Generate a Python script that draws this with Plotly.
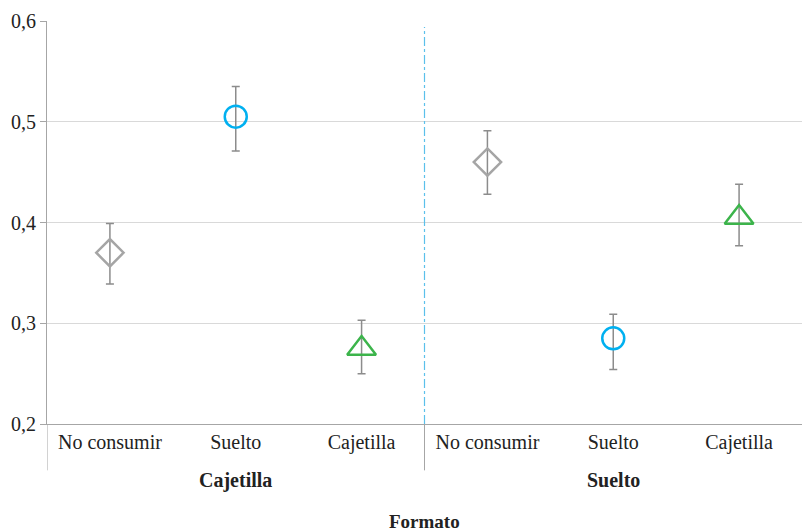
import plotly.graph_objects as go

# Grouped categories along the x axis
groups = ["Cajetilla", "Suelto"]
options = ["No consumir", "Suelto", "Cajetilla"]

# Estimated share per option within each format group, with interval bounds
series_names = ["No consumir", "Suelto", "Cajetilla"]
means = {
    "No consumir": [0.37, 0.46],
    "Suelto": [0.505, 0.285],
    "Cajetilla": [0.275, 0.405],
}
upper = {
    "No consumir": [0.399, 0.491],
    "Suelto": [0.535, 0.309],
    "Cajetilla": [0.303, 0.438],
}
lower = {
    "No consumir": [0.339, 0.428],
    "Suelto": [0.471, 0.254],
    "Cajetilla": [0.250, 0.377],
}

y_ticks = [0.2, 0.3, 0.4, 0.5, 0.6]

styles = {
    "No consumir": dict(symbol="diamond-open", color="#a5a5a5", size=21),
    "Suelto": dict(symbol="circle-open", color="#00b0f0", size=22),
    "Cajetilla": dict(symbol="triangle-up-open", color="#3cb44b", size=25),
}

n_opt = len(options)
fig = go.Figure()
for name in series_names:
    idx = options.index(name)
    xs = [g * n_opt + idx for g in range(len(groups))]
    m = means[name]
    st = styles[name]
    fig.add_trace(go.Scatter(
        x=xs, y=m, mode="markers", name=name, showlegend=False,
        marker=dict(symbol=st["symbol"], size=st["size"],
                    color=st["color"], line=dict(color=st["color"], width=2.5)),
        error_y=dict(type="data", symmetric=False,
                     array=[u - v for u, v in zip(upper[name], m)],
                     arrayminus=[v - l for l, v in zip(lower[name], m)],
                     color="#8c8c8c", thickness=1.5, width=4),
    ))

tick_vals = list(range(len(groups) * n_opt))
tick_text = options * len(groups)

font_family = "Liberation Serif"

fig.update_layout(
    width=802, height=531,
    margin=dict(l=47, r=0, t=21, b=107),
    paper_bgcolor="white", plot_bgcolor="white",
    separators=",.",
    font=dict(family=font_family, size=20, color="#222222"),
    xaxis=dict(range=[-0.5, len(tick_vals) - 0.5], tickvals=tick_vals,
               ticktext=tick_text, showgrid=False, zeroline=False,
               showline=True, linecolor="#a6a6a6", linewidth=1,
               ticks="", tickfont=dict(family=font_family, size=20, color="#222222")),
    yaxis=dict(range=[0.2, 0.6], tickvals=y_ticks, tickformat=".1f",
               showgrid=True, gridcolor="#d9d9d9", gridwidth=1,
               zeroline=False, showline=True, linecolor="#a6a6a6",
               linewidth=1, ticks="outside", ticklen=6, tickcolor="#a6a6a6",
               tickfont=dict(family=font_family, size=20, color="#222222")),
)

# Vertical dash-dot separator between the two format groups
for g in range(1, len(groups)):
    xb = g * n_opt - 0.5
    fig.add_shape(type="line", xref="x", yref="paper", x0=xb, x1=xb,
                  y0=0, y1=0.985, line=dict(color="#5bc0eb", width=1.2, dash="dashdot"))

# Group dividers below the axis
for g in range(len(groups)):
    xb = g * n_opt - 0.5
    fig.add_shape(type="line", xref="x", yref="paper", x0=xb, x1=xb,
                  y0=0, y1=-0.115, line=dict(color="#a6a6a6", width=1))

# Group labels and axis title
for g, gname in enumerate(groups):
    fig.add_annotation(x=g * n_opt + (n_opt - 1) / 2, y=-0.139, xref="x", yref="paper",
                       text=f"<b>{gname}</b>", showarrow=False, yanchor="middle",
                       font=dict(size=20, color="#222222", family=font_family))

fig.add_annotation(x=0.5, y=-0.243, xref="paper", yref="paper",
                   text="<b>Formato</b>", showarrow=False, yanchor="middle",
                   font=dict(size=19, color="#222222", family=font_family))

fig.write_html("out.html")
